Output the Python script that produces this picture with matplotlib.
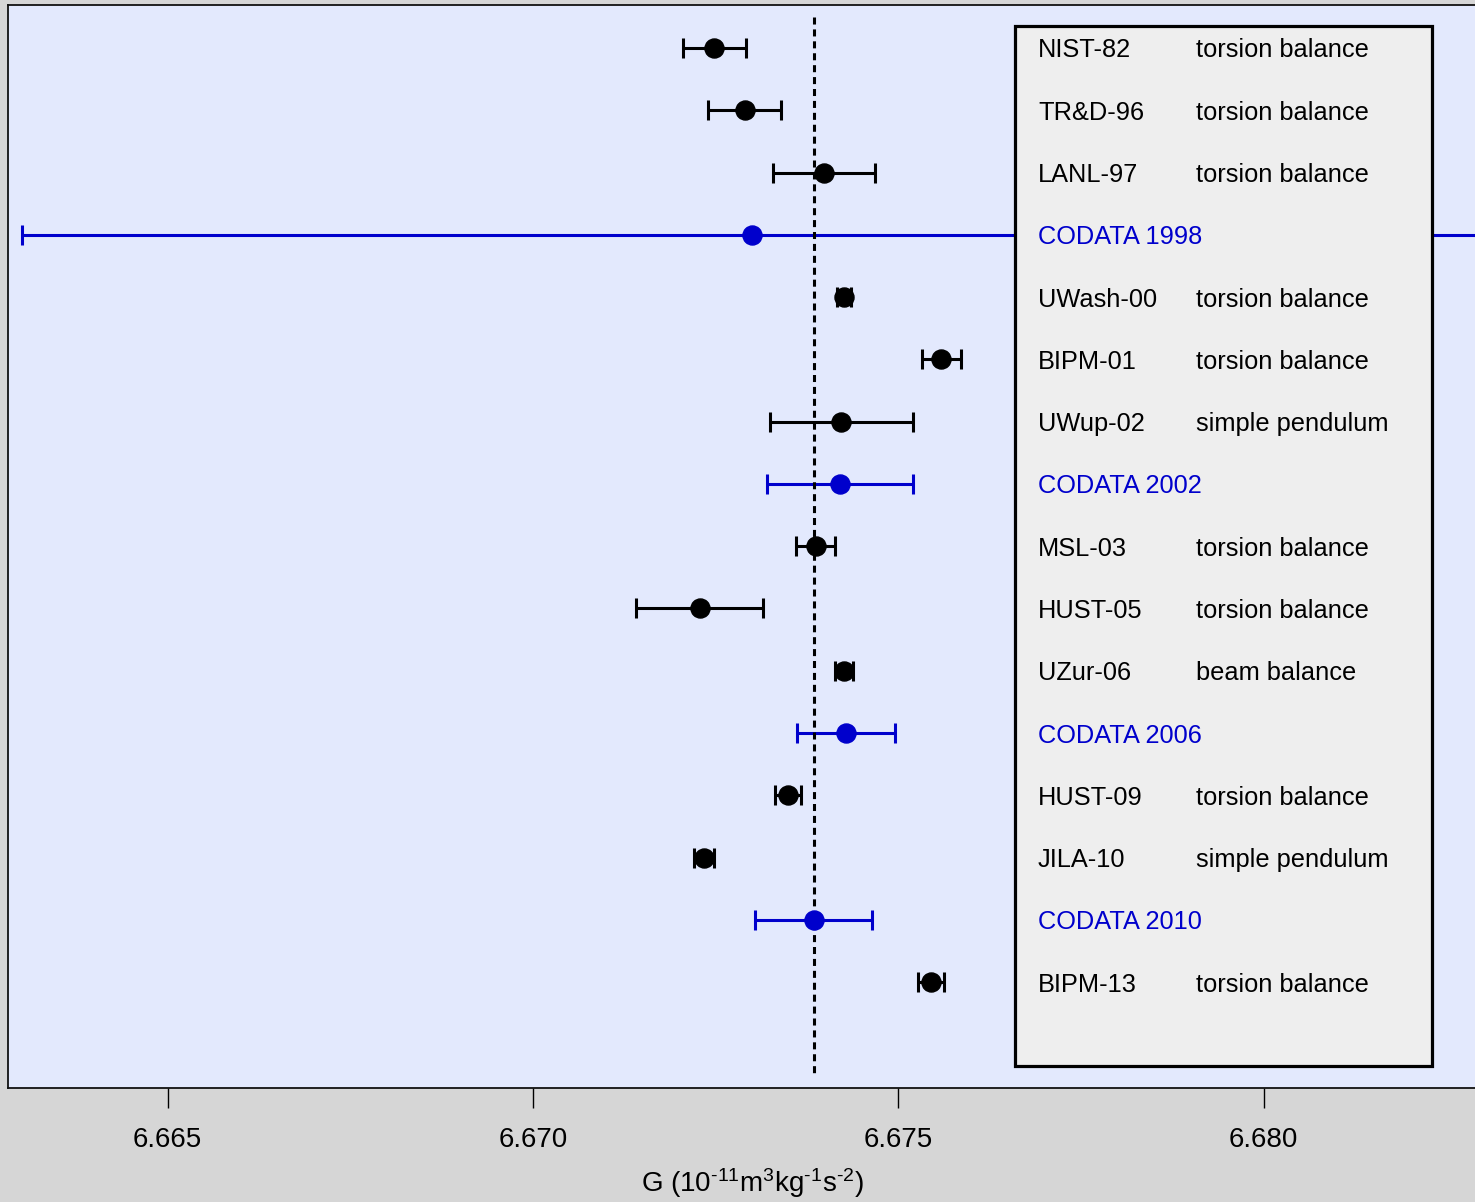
import matplotlib
matplotlib.use("Agg")
import matplotlib.pyplot as plt
from matplotlib.patches import Rectangle
from matplotlib.transforms import blended_transform_factory

plt.rcParams['font.family'] = ['Liberation Sans', 'DejaVu Sans']
plt.rcParams['mathtext.fontset'] = 'custom'
plt.rcParams['mathtext.rm'] = 'Liberation Sans'
plt.rcParams['mathtext.it'] = 'Liberation Sans'
plt.rcParams['mathtext.bf'] = 'Liberation Sans'
plt.rcParams['axes.unicode_minus'] = False

# Measurements of the gravitational constant, top to bottom
labels = ["NIST-82", "TR&D-96", "LANL-97", "CODATA 1998", "UWash-00", "BIPM-01",
          "UWup-02", "CODATA 2002", "MSL-03", "HUST-05", "UZur-06", "CODATA 2006",
          "HUST-09", "JILA-10", "CODATA 2010", "BIPM-13"]
methods = ["torsion balance", "torsion balance", "torsion balance", "",
           "torsion balance", "torsion balance", "simple pendulum", "",
           "torsion balance", "torsion balance", "beam balance", "",
           "torsion balance", "simple pendulum", "", "torsion balance"]
G_values = [6.67248, 6.6729, 6.67398, 6.673, 6.674255, 6.67559,
            6.67422, 6.6742, 6.67387, 6.67228, 6.674252, 6.67428,
            6.67349, 6.67234, 6.67384, 6.67545]
G_errors = [0.00043, 0.0005, 0.00070, 0.010, 0.000092, 0.00027,
            0.00098, 0.0010, 0.00027, 0.00087, 0.000124, 0.00067,
            0.00018, 0.00014, 0.00080, 0.00018]
is_codata = [l.startswith("CODATA") for l in labels]
G_reference = 6.67384
xticks = [6.665, 6.670, 6.675, 6.680]

BLUE = '#0000cc'
W, H = 1475, 1202
fig = plt.figure(figsize=(W / 100, H / 100), dpi=100)
fig.patch.set_facecolor('#d6d6d6')
ax = fig.add_axes([8 / W, 114 / H, 1488 / W, 1083 / H])
ax.set_facecolor('#e3e9fd')

rows = list(range(len(labels)))

# Error bars
for r, g, e, c in zip(rows, G_values, G_errors, is_codata):
    col = BLUE if c else 'black'
    ax.errorbar([g], [r], xerr=[e], fmt='none', ecolor=col, elinewidth=2.2,
                capsize=7, capthick=2.2, zorder=2)

# Reference value
ax.plot([G_reference, G_reference], [-0.5, 16.5], color='black', lw=2.2,
        dashes=(2.3, 1.6), zorder=2.5)

# Central values
for r, g, c in zip(rows, G_values, is_codata):
    col = BLUE if c else 'black'
    ax.plot([g], [r], 'o', color=col, markersize=13.7, zorder=3)

ax.set_xlim(6.662814, 6.683181)
ax.set_ylim(16.70, -0.69)

# Key box with experiment names and methods
trans = blended_transform_factory(ax.transAxes, ax.transData)
ax.add_patch(Rectangle((0.6767, -0.353), 0.9570 - 0.6767, 16.35 + 0.353,
                       transform=trans, facecolor='#eeeeee', edgecolor='black',
                       lw=2.3, zorder=5))
for r, lab, m, c in zip(rows, labels, methods, is_codata):
    col = BLUE if c else 'black'
    ax.text(0.6922, r + 0.153, lab, transform=trans, fontsize=18.3, color=col,
            va='baseline', ha='left', zorder=6)
    if m:
        ax.text(0.7984, r + 0.153, m, transform=trans, fontsize=18.3, color=col,
                va='baseline', ha='left', zorder=6)

ax.set_xticks(xticks)
ax.set_xticklabels([f"{t:.3f}" for t in xticks])
ax.tick_params(axis='x', direction='out', length=14.4, width=1, pad=13.5,
               labelsize=20, colors='black')
ax.set_yticks([])
for s in ['top', 'left', 'bottom', 'right']:
    ax.spines[s].set_linewidth(1.3)
    ax.spines[s].set_color('#111111')

ax.set_xlabel(r'G (10$^{\text{-11}}$m$^{3}$kg$^{\text{-1}}$s$^{\text{-2}}$)',
              fontsize=20)
ax.xaxis.set_label_coords(0.5, -0.0960)
ax.xaxis.label.set_va('baseline')

fig.savefig('out.png', dpi=100, facecolor=fig.get_facecolor())
